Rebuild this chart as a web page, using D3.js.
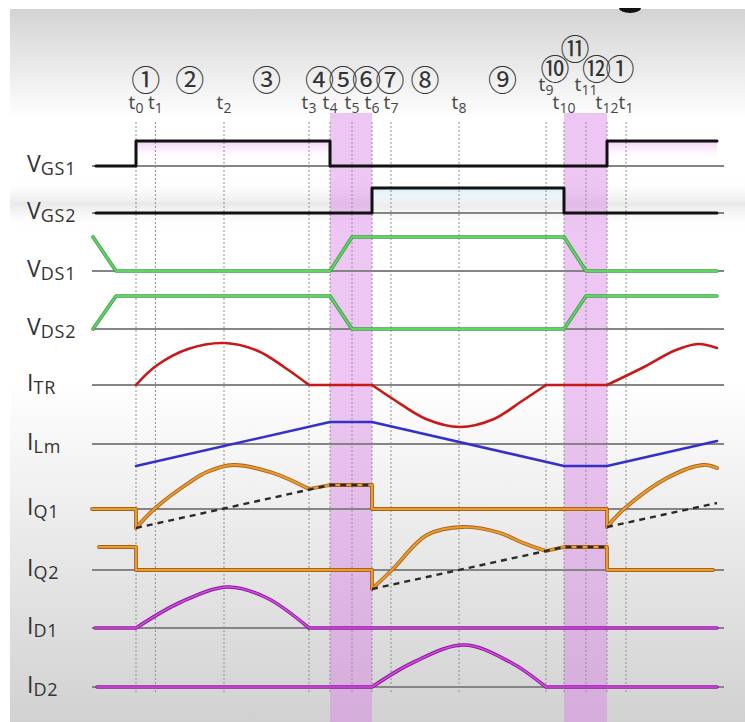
<!DOCTYPE html>
<html>
<head>
<meta charset="utf-8">
<script src="https://cdn.jsdelivr.net/npm/d3@7"></script>
<style>
  html, body { margin: 0; padding: 0; background: #fff; }
  svg { display: block; }
</style>
</head>
<body>
<svg id="chart" width="745" height="722"></svg>
<script>
// ---------- switching instants of one LLC half-bridge period ----------
const eventLabels = ["t0","t1","t2","t3","t4","t5","t6","t7","t8","t9","t10","t11","t12","t1"];
const eventTimes  = [0, 0.97, 4.4, 8.65, 9.7, 10.8, 11.8, 12.75, 16.15, 20.5, 21.4, 22.5, 23.55, 24.5];
const intervalLabels = ["①","②","③","④","⑤","⑥","⑦","⑧","⑨","⑩","⑪","⑫","①"];
const deadTimes = [[9.7, 11.8], [21.4, 23.55]];   // both switches off
const tStart = -2.0, tEnd = 29.05;

// ---------- waveform names ----------
const signalNames = ["VGS1","VGS2","VDS1","VDS2","ITR","ILm","IQ1","IQ2","ID1","ID2"];
const labelMain   = ["V","V","V","V","I","I","I","I","I","I"];
const labelSub    = ["GS1","GS2","DS1","DS2","TR","Lm","Q1","Q2","D1","D2"];

// ---------- waveform values: [time, level] (gate/drain in p.u., currents in A) ----------
const vgs1 = [[tStart,0],[0,1],[9.7,0],[23.55,1],[tEnd,1]];
const vgs2 = [[tStart,0],[11.8,1],[21.4,0],[tEnd,0]];
const vds1 = [[-2.15,1],[-1.0,0],[9.7,0],[10.8,1],[21.4,1],[22.5,0],[tEnd,0]];
const vds2 = [[-2.15,0],[-1.0,1],[9.7,1],[10.8,0],[21.4,0],[22.5,1],[tEnd,1]];

const itrPos1  = [[0,0],[1.0,0.95],[2.6,1.8],[4.45,2.1],[6.1,1.7],[7.4,0.9],[8.65,0]];
const itrFlat1 = [[8.65,0],[11.8,0]];
const itrNeg   = [[11.8,0],[12.85,-0.7],[14.5,-1.7],[16.2,-2.1],[17.9,-1.7],[19.3,-0.8],[20.5,0]];
const itrFlat2 = [[20.5,0],[23.55,0]];
const itrPos2  = [[23.55,0],[25.3,0.85],[27.0,1.75],[28.1,2.05],[29.05,1.85]];

const ilm = [[0,-1.1],[9.7,1.1],[11.8,1.1],[21.4,-1.1],[23.55,-1.1],[29.05,0.15]];

const iq1Off1  = [[-2.2,0],[0,0],[0,-0.95]];
const iq1On    = [[0,-0.95],[0.97,0.05],[2.7,1.35],[3.55,1.85],[4.85,2.2],[6.85,1.8],[8.65,1.0]];
const iq1Hold  = [[8.65,1.0],[9.7,1.2],[11.8,1.2],[11.8,0],[23.55,0],[23.55,-0.9]];
const iq1On2   = [[23.55,-0.9],[24.4,0],[26.55,1.55],[28.35,2.2],[29.05,2.05]];
const iq1Lm    = [[0,-0.95],[9.7,1.2],[11.8,1.2]];
const iq1Lm2   = [[23.55,-0.9],[29.05,0.3]];

const iq2Off1  = [[-1.85,1.15],[0,1.15],[0,0],[11.8,0],[11.8,-0.95]];
const iq2On    = [[11.8,-0.95],[12.8,0],[14.55,1.75],[16.35,2.15],[18.2,1.85],[19.35,1.35],[20.5,0.95]];
const iq2Hold  = [[20.5,0.95],[21.4,1.15],[23.55,1.15],[23.55,0],[28.85,0]];
const iq2Lm    = [[11.8,-0.95],[21.4,1.15],[23.55,1.15]];

const id1Flat0 = [[-2.05,0],[0,0]];
const id1Hump  = [[0,0],[2.25,1.3],[4.6,2.05],[6.55,1.5],[8.65,0]];
const id1Flat1 = [[8.65,0],[tEnd,0]];
const id2Flat0 = [[-1.95,0],[11.8,0]];
const id2Hump  = [[11.8,0],[13.9,1.25],[16.4,2.1],[18.7,1.25],[20.5,0]];
const id2Flat1 = [[20.5,0],[tEnd,0]];

// ---------- layout ----------
const W = 745, H = 722;
const rowBase = { VGS1:166, VGS2:213, VDS1:271, VDS2:329, ITR:385, ILm:444, IQ1:509, IQ2:570, ID1:628, ID2:687 };
const rowAmp  = { VGS1:25, VGS2:25, VDS1:34, VDS2:33, ITR:20, ILm:20, IQ1:20, IQ2:20, ID1:20, ID2:20 };

const x = d3.scaleLinear().domain([-2.3, 29.4]).range([90, 724]);
const yRow = {};
signalNames.forEach(n => {
  yRow[n] = d3.scaleLinear().domain([0, 1]).range([rowBase[n], rowBase[n] - rowAmp[n]]);
});

const svg = d3.select("#chart");
const defs = svg.append("defs");

function vGradient(id, stops) {
  const g = defs.append("linearGradient").attr("id", id)
    .attr("x1", 0).attr("y1", 0).attr("x2", 0).attr("y2", 1);
  stops.forEach(s => g.append("stop").attr("offset", s[0])
    .attr("stop-color", s[1]).attr("stop-opacity", s[2] == null ? 1 : s[2]));
}
vGradient("topHaze", [[0,"#d3d3d3"],[1,"#ffffff"]]);
vGradient("botHaze", [[0,"#ffffff"],[1,"#d1d1d1"]]);
vGradient("gateBand", [[0,"#ffffff",0],[0.5,"#e9e9e9",1],[1,"#ffffff",0]]);
vGradient("pinkFill", [[0,"#f4cdf4"],[0.8,"#ffffff",0]]);
vGradient("blueFill", [[0,"#d6eefa"],[0.8,"#ffffff",0]]);

// ---------- background ----------
svg.append("rect").attr("width", W).attr("height", H).attr("fill", "#fff");
svg.append("rect").attr("x", 10).attr("y", 9).attr("width", W - 10).attr("height", 110).attr("fill", "url(#topHaze)");
svg.append("rect").attr("x", 10).attr("y", 380).attr("width", W - 10).attr("height", H - 380).attr("fill", "url(#botHaze)");
svg.append("rect").attr("x", 10).attr("y", 178).attr("width", W - 10).attr("height", 52).attr("fill", "url(#gateBand)");
svg.append("path").attr("d", "M619,8 A11,5 0 0 0 641,8 Z").attr("fill", "#111");

// ---------- dead-time bands ----------
svg.append("g").selectAll("rect").data(deadTimes).join("rect")
  .attr("x", d => x(d[0])).attr("width", d => x(d[1]) - x(d[0]))
  .attr("y", 113).attr("height", H - 113)
  .attr("fill", "rgb(214,128,230)").attr("fill-opacity", 0.45);

// ---------- gate drive shading ----------
function gateShade(name, spans, fill) {
  const y = yRow[name];
  svg.append("g").selectAll("rect").data(spans).join("rect")
    .attr("x", d => x(d[0])).attr("width", d => x(d[1]) - x(d[0]))
    .attr("y", y(1)).attr("height", y(0) - y(1))
    .attr("fill", fill);
}
gateShade("VGS1", [[vgs1[1][0], vgs1[2][0]], [vgs1[3][0], vgs1[4][0]]], "url(#pinkFill)");
gateShade("VGS2", [[vgs2[1][0], vgs2[2][0]]], "url(#blueFill)");

// ---------- event grid lines ----------
svg.append("g").selectAll("line").data(eventTimes).join("line")
  .attr("x1", d => x(d)).attr("x2", d => x(d))
  .attr("y1", 122).attr("y2", 694)
  .attr("stroke", "#8f8f8f").attr("stroke-width", 1).attr("stroke-dasharray", "2,2");

// ---------- zero baselines ----------
svg.append("g").selectAll("line").data(signalNames).join("line")
  .attr("x1", x(-2.2)).attr("x2", x(29.4))
  .attr("y1", d => rowBase[d]).attr("y2", d => rowBase[d])
  .attr("stroke", "#858585").attr("stroke-width", 2);

// ---------- row labels ----------
const lab = svg.append("g").attr("font-family", "'Open Sans', 'Noto Sans', sans-serif").attr("fill", "#333");
signalNames.forEach((n, i) => {
  const t = lab.append("text").attr("x", 27).attr("y", rowBase[n] + 6);
  t.append("tspan").attr("font-size", 23).text(labelMain[i]);
  t.append("tspan").attr("font-size", 18).attr("dy", 3).attr("letter-spacing", 0.8).text(labelSub[i]);
});

// ---------- waveforms ----------
function lineFor(name, curve) {
  return d3.line().x(d => x(d[0])).y(d => yRow[name](d[1])).curve(curve);
}
const lin = d3.curveLinear, smooth = d3.curveCatmullRom.alpha(0.5), step = d3.curveStepAfter;

function trace(name, pieces, styles, dash) {
  const d = pieces.map(p => lineFor(name, p[1])(p[0])).join("");
  styles.forEach(s => {
    svg.append("path").attr("d", d).attr("fill", "none")
      .attr("stroke", s[0]).attr("stroke-width", s[1])
      .attr("stroke-linecap", dash ? "butt" : "round")
      .attr("stroke-linejoin", "round")
      .attr("stroke-dasharray", dash || null);
  });
}

const gateStyle   = [["#111", 3]];
const greenStyle  = [["#3f9a4c", 3.6], ["#5fd65f", 2]];
const redStyle    = [["#c81818", 2.6]];
const blueStyle   = [["#3430cc", 2.6]];
const orangeStyle = [["#a8621a", 3.8], ["#ec9c2c", 2]];
const purpleStyle = [["#8c1a9c", 3.6], ["#d24be0", 1.6]];
const dashStyle   = [["#2a2a2a", 2.4]];

trace("VGS1", [[vgs1, step]], gateStyle);
trace("VGS2", [[vgs2, step]], gateStyle);
trace("VDS1", [[vds1, lin]], greenStyle);
trace("VDS2", [[vds2, lin]], greenStyle);
trace("ITR", [[itrPos1, smooth], [itrFlat1, lin], [itrNeg, smooth], [itrFlat2, lin], [itrPos2, smooth]], redStyle);
trace("ILm", [[ilm, lin]], blueStyle);
trace("IQ1", [[iq1Off1, lin], [iq1On, smooth], [iq1Hold, lin], [iq1On2, smooth]], orangeStyle);
trace("IQ2", [[iq2Off1, lin], [iq2On, smooth], [iq2Hold, lin]], orangeStyle);
trace("IQ1", [[iq1Lm, lin], [iq1Lm2, lin]], dashStyle, "6,5");
trace("IQ2", [[iq2Lm, lin]], dashStyle, "6,5");
trace("ID1", [[id1Flat0, lin], [id1Hump, smooth], [id1Flat1, lin]], purpleStyle);
trace("ID2", [[id2Flat0, lin], [id2Hump, smooth], [id2Flat1, lin]], purpleStyle);

// ---------- instant labels ----------
const raised = new Set([9, 11]);   // t9 and t11 sit higher
const tl = svg.append("g").attr("font-family", "'Open Sans', 'Noto Sans', sans-serif").attr("fill", "#444");
eventLabels.forEach((s, i) => {
  const t = tl.append("text").attr("x", x(eventTimes[i])).attr("y", raised.has(i) ? 91 : 109)
    .attr("text-anchor", "middle");
  t.append("tspan").attr("font-size", 19).text(s[0]);
  t.append("tspan").attr("font-size", 14).attr("dy", 4).text(s.slice(1));
});

// ---------- interval numbers ----------
const levelY = [78, 67, 47];
const level = [0,0,0,0,0,0,0,0,0,1,2,1,1];
const gap = 23.5;
const lastX = {};
const cx = intervalLabels.map((s, i) => {
  let m = (x(eventTimes[i]) + x(eventTimes[i + 1])) / 2;
  const lv = level[i];
  if (lastX[lv] != null && m - lastX[lv] < gap) m = lastX[lv] + gap;
  lastX[lv] = m;
  return m;
});
svg.append("g").attr("font-family", "'Noto Sans CJK JP', sans-serif").attr("fill", "#333")
  .selectAll("text").data(intervalLabels).join("text")
  .attr("x", (d, i) => cx[i]).attr("y", (d, i) => levelY[level[i]])
  .attr("text-anchor", "middle").attr("dominant-baseline", "central")
  .attr("font-size", 29).text(d => d);
</script>
</body>
</html>
